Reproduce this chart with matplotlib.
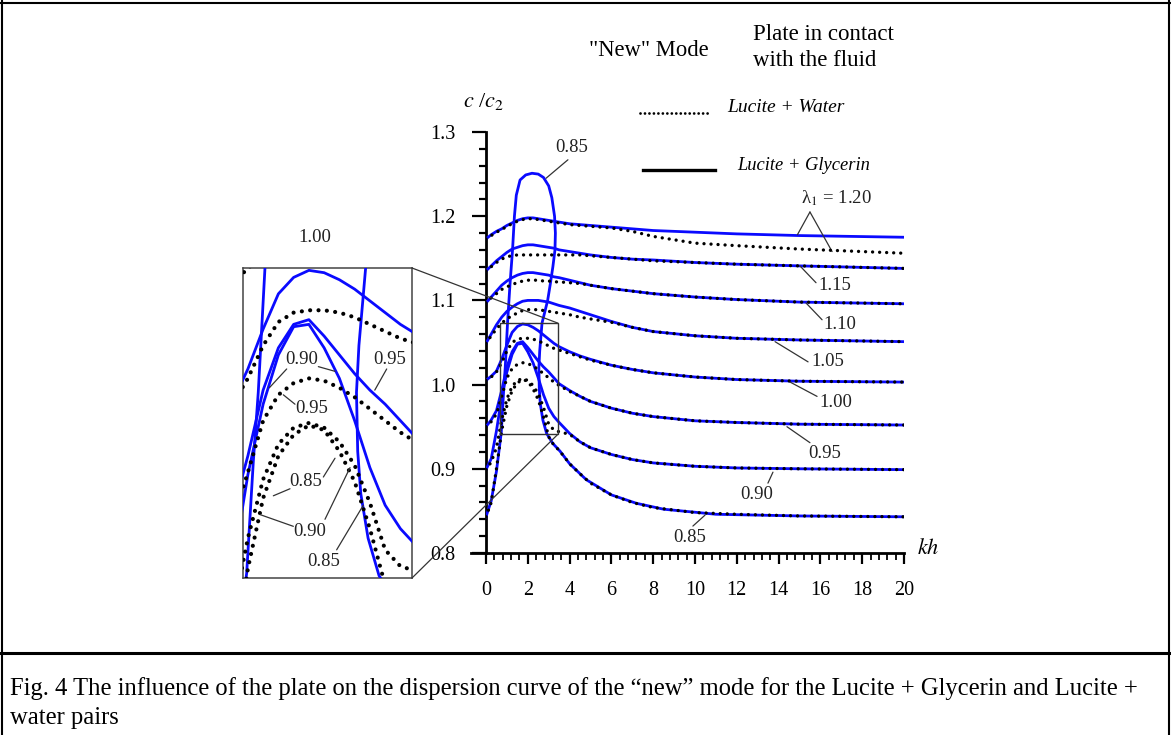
import matplotlib
matplotlib.use("Agg")
import matplotlib.pyplot as plt
from matplotlib.patches import Rectangle, ConnectionPatch
from matplotlib.lines import Line2D
from matplotlib.ticker import MultipleLocator
import numpy as np

plt.rcParams['font.family'] = ['Liberation Serif', 'DejaVu Serif']
plt.rcParams['mathtext.fontset'] = 'stix'

# ---------------- data (kh, c/c2) ----------------
KH = [0, 0.25, 0.5, 0.75, 1.0, 1.25, 1.5, 1.75, 2.0, 2.25, 2.5, 2.75, 3.0,
      3.25, 3.5, 4, 4.5, 5, 6, 7, 8, 10, 12, 15, 20]

glycerin_120 = [1.173, 1.178, 1.182, 1.185, 1.189, 1.192, 1.195, 1.197, 1.198, 1.198, 1.197, 1.196, 1.195,
                1.194, 1.193, 1.191, 1.190, 1.189, 1.187, 1.185, 1.183, 1.181, 1.179, 1.177, 1.175]
water_120 = [1.173, 1.177, 1.181, 1.184, 1.188, 1.191, 1.194, 1.196, 1.197, 1.197, 1.196, 1.195, 1.194,
             1.193, 1.192, 1.190, 1.189, 1.188, 1.186, 1.182, 1.176, 1.168, 1.165, 1.161, 1.156]
glycerin_115 = [1.135, 1.141, 1.147, 1.152, 1.157, 1.161, 1.163, 1.165, 1.166, 1.166, 1.165, 1.164, 1.163,
                1.162, 1.160, 1.158, 1.156, 1.154, 1.151, 1.149, 1.148, 1.145, 1.143, 1.141, 1.138]
water_115 = [1.135, 1.140, 1.145, 1.149, 1.152, 1.153, 1.154, 1.154, 1.154, 1.154, 1.154, 1.154, 1.154,
             1.154, 1.154, 1.154, 1.154, 1.153, 1.151, 1.149, 1.147, 1.145, 1.143, 1.141, 1.138]
glycerin_110 = [1.097, 1.104, 1.111, 1.118, 1.123, 1.127, 1.130, 1.132, 1.133, 1.133, 1.132, 1.131, 1.130,
                1.128, 1.127, 1.124, 1.121, 1.118, 1.114, 1.111, 1.108, 1.104, 1.101, 1.098, 1.096]
water_110 = [1.097, 1.103, 1.108, 1.113, 1.116, 1.119, 1.121, 1.123, 1.124, 1.124, 1.124, 1.123, 1.123,
             1.122, 1.122, 1.121, 1.120, 1.118, 1.114, 1.111, 1.108, 1.104, 1.101, 1.098, 1.096]
glycerin_105 = [1.049, 1.060, 1.071, 1.080, 1.087, 1.092, 1.096, 1.099, 1.100, 1.100, 1.100, 1.099, 1.098,
                1.096, 1.094, 1.091, 1.087, 1.083, 1.075, 1.068, 1.063, 1.058, 1.055, 1.053, 1.051]
water_105 = [1.049, 1.058, 1.066, 1.073, 1.078, 1.082, 1.085, 1.088, 1.089, 1.089, 1.089, 1.088, 1.087,
             1.086, 1.085, 1.083, 1.080, 1.078, 1.074, 1.068, 1.063, 1.058, 1.055, 1.053, 1.051]
glycerin_100 = [1.005, 1.010, 1.016, 1.030, 1.047, 1.062, 1.069, 1.072, 1.071, 1.068, 1.064, 1.059, 1.054,
                1.049, 1.045, 1.039, 1.034, 1.030, 1.023, 1.018, 1.014, 1.009, 1.006, 1.004, 1.003]
water_100 = [1.005, 1.009, 1.015, 1.026, 1.040, 1.050, 1.054, 1.055, 1.055, 1.054, 1.052, 1.049, 1.046,
             1.043, 1.041, 1.037, 1.033, 1.029, 1.023, 1.018, 1.014, 1.009, 1.006, 1.004, 1.003]
glycerin_095 = [0.950, 0.958, 0.969, 0.993, 1.021, 1.039, 1.049, 1.051, 1.044, 1.036, 1.028, 1.021, 1.015,
                1.008, 1.001, 0.993, 0.986, 0.980, 0.972, 0.966, 0.962, 0.957, 0.955, 0.953, 0.952]
water_095 = [0.950, 0.956, 0.965, 0.986, 1.008, 1.019, 1.024, 1.026, 1.025, 1.022, 1.018, 1.013, 1.008,
             1.003, 0.999, 0.992, 0.986, 0.980, 0.972, 0.966, 0.962, 0.957, 0.955, 0.953, 0.952]
glycerin_090 = [0.899, 0.912, 0.945, 0.985, 1.015, 1.036, 1.048, 1.049, 1.039, 1.026, 1.008, 0.988, 0.972,
                0.962, 0.955, 0.942, 0.932, 0.925, 0.917, 0.911, 0.907, 0.903, 0.901, 0.900, 0.899]
water_090 = [0.899, 0.908, 0.925, 0.958, 0.983, 0.998, 1.005, 1.007, 1.005, 0.999, 0.989, 0.973, 0.953,
             0.946, 0.944, 0.941, 0.932, 0.925, 0.917, 0.911, 0.907, 0.903, 0.901, 0.900, 0.899]
water_085 = [0.843, 0.860, 0.900, 0.945, 0.975, 0.993, 1.002, 1.006, 1.004, 0.995, 0.982, 0.962, 0.938,
             0.928, 0.922, 0.906, 0.894, 0.883, 0.869, 0.860, 0.854, 0.848, 0.846, 0.844, 0.843]

# Lucite + Glycerin, lambda1 = 0.85 : closed loop (multi-valued in kh)
kh_glycerin_085 = [0, 0.25, 0.5, 0.73, 0.84, 0.92, 1.03, 1.15, 1.27, 1.36,
                   1.45, 1.63, 1.9, 2.2, 2.5, 2.75, 3.0, 3.15, 3.28, 3.32,
                   3.3, 3.2, 3.08, 2.95, 2.8, 2.68, 2.57, 2.53, 2.55, 2.6,
                   2.72, 2.9, 3.2, 3.54, 4.0, 4.8, 6.0, 7.2, 8.5, 11, 15, 20]
glycerin_085 = [0.843, 0.862, 0.897, 0.943, 0.991, 1.020, 1.073, 1.120, 1.160, 1.200,
                1.225, 1.243, 1.249, 1.251, 1.250, 1.246, 1.236, 1.222, 1.200, 1.180,
                1.160, 1.140, 1.120, 1.100, 1.085, 1.073, 1.040, 1.020, 0.995, 0.977,
                0.958, 0.942, 0.930, 0.921, 0.906, 0.887, 0.869, 0.859, 0.852, 0.846, 0.844, 0.843]

GLYCERIN = [glycerin_120, glycerin_115, glycerin_110, glycerin_105,
            glycerin_100, glycerin_095, glycerin_090]
WATER = [water_120, water_115, water_110, water_105, water_100,
         water_095, water_090, water_085]

X_TICKS = [0, 2, 4, 6, 8, 10, 12, 14, 16, 18, 20]
Y_TICKS = [0.8, 0.9, 1.0, 1.1, 1.2, 1.3]
Y_TICK_LABELS = ['0.8', '0.9', '1.0', '1.1', '1.2', '1.3']

ZOOM_X = (0.67, 3.44)
ZOOM_Y = (0.941, 1.073)

# ---------------- figure ----------------
W, H = 1171, 735
fig = plt.figure(figsize=(W / 100, H / 100), dpi=100)


def fx(px):
    return px / W


def fy(py):
    return 1 - py / H


BLUE = '#0a0aff'
BLUE_LW = 2.0
DOT_KW = dict(color='black', linestyle=(0, (0.01, 2.1)), dash_capstyle='round', lw=2.4)
DOT_KW_IN = dict(color='black', linestyle=(0, (0.01, 2.0)), dash_capstyle='round', lw=3.0)
LEAD = dict(arrowstyle='-', lw=0.9, color='#333333', shrinkA=0, shrinkB=0)
LBL_FS = 13.5
LBL_COL = '#222222'

ax = fig.add_axes([fx(486), fy(553), fx(904) - fx(486), fy(132) - fy(553)])
ax.set_xlim(0, 20)
ax.set_ylim(0.8, 1.3)
ax.set_facecolor('none')

for g in GLYCERIN:
    ax.plot(KH, g, color=BLUE, lw=BLUE_LW, zorder=3, solid_capstyle='round')
ax.plot(kh_glycerin_085, glycerin_085, color=BLUE, lw=BLUE_LW, zorder=3)
for w in WATER:
    ax.plot(KH, w, zorder=4, **DOT_KW)

for s in ['top', 'right']:
    ax.spines[s].set_visible(False)
for s in ['left', 'bottom']:
    ax.spines[s].set_linewidth(2.0)
ax.spines['bottom'].set_bounds(-0.7, 20)

ax.set_xticks(X_TICKS)
ax.set_xticklabels([str(t) for t in X_TICKS])
ax.set_yticks(Y_TICKS)
ax.set_yticklabels(Y_TICK_LABELS)
ax.xaxis.set_minor_locator(MultipleLocator(0.4))
ax.yaxis.set_minor_locator(MultipleLocator(0.02))
ax.tick_params(axis='x', which='major', direction='out', length=8, width=1.6, pad=12, labelsize=14.5)
ax.tick_params(axis='x', which='minor', direction='out', length=5, width=1.3)
ax.tick_params(axis='y', which='major', direction='out', length=10, width=1.6, pad=12, labelsize=14.5)
ax.tick_params(axis='y', which='minor', direction='out', length=5, width=1.6)

# zoom rectangle
ax.add_patch(Rectangle((ZOOM_X[0], ZOOM_Y[0]), ZOOM_X[1] - ZOOM_X[0], ZOOM_Y[1] - ZOOM_Y[0],
                       fill=False, lw=1.0, ec='#333333', zorder=5))

# main labels with leaders
main_labels = [
    ("0.85", (4.11, 1.282), [((3.92, 1.267), (2.87, 1.245))]),
    ("1.15", (16.7, 1.118), [((15.79, 1.121), (15.02, 1.141))]),
    ("1.10", (16.95, 1.071), [((16.08, 1.077), (15.31, 1.097))]),
    ("1.05", (16.36, 1.027), [((15.41, 1.027), (13.83, 1.051))]),
    ("1.00", (16.75, 0.979), [((15.84, 0.986), (14.55, 1.003))]),
    ("0.95", (16.2, 0.918), [((15.50, 0.931), (14.40, 0.950))]),
    ("0.90", (12.97, 0.869), [((13.49, 0.883), (13.73, 0.896))]),
    ("0.85", (9.76, 0.819), [((9.90, 0.832), (10.48, 0.845))]),
]
for txt, pos, leads in main_labels:
    ax.text(pos[0], pos[1], txt, fontsize=LBL_FS, color=LBL_COL, ha='center', va='center', zorder=6)
    for a, b in leads:
        ax.annotate('', xy=b, xytext=a, arrowprops=LEAD, zorder=6)

ax.text(16.75, 1.221, 'λ$_1$ = 1.20', fontsize=LBL_FS, color=LBL_COL, ha='center', va='center')
ax.annotate('', xy=(14.9, 1.178), xytext=(15.5, 1.205), arrowprops=LEAD)
ax.annotate('', xy=(16.56, 1.158), xytext=(15.5, 1.205), arrowprops=LEAD)

# axis titles
fig.text(fx(483), fy(101), '$c$ /$c_2$', fontsize=16, ha='center', va='center')
fig.text(fx(917), fy(549), '$kh$', fontsize=16, ha='left', va='center')

# ---------------- inset ----------------
axi = fig.add_axes([fx(243), fy(578), fx(412) - fx(243), fy(268) - fy(578)])
axi.set_xlim(*ZOOM_X)
axi.set_ylim(*ZOOM_Y)
axi.set_xticks([])
axi.set_yticks([])
for s in axi.spines.values():
    s.set_linewidth(1.1)
    s.set_color('#444444')
for g in GLYCERIN:
    axi.plot(KH, g, color=BLUE, lw=BLUE_LW, zorder=3)
axi.plot(kh_glycerin_085, glycerin_085, color=BLUE, lw=BLUE_LW, zorder=3)
for w in WATER:
    axi.plot(KH, w, zorder=4, **DOT_KW_IN)

inset_labels = [
    ("0.90", (1.632, 1.034), [((1.905, 1.031), (2.178, 1.029)), ((1.386, 1.030), (1.102, 1.022))]),
    ("0.95", (3.08, 1.034), [((3.025, 1.030), (2.83, 1.021))]),
    ("0.95", (1.80, 1.013), [((1.522, 1.015), (1.331, 1.019))]),
    ("0.85", (1.70, 0.982), [((1.987, 0.984), (2.178, 0.992)), ((1.44, 0.979), (1.167, 0.976))]),
    ("0.90", (1.77, 0.961), [((1.495, 0.963), (0.949, 0.968)), ((2.014, 0.966), (2.424, 0.988))]),
    ("0.85", (1.99, 0.948), [((2.205, 0.953), (2.642, 0.972))]),
]
for txt, pos, leads in inset_labels:
    axi.text(pos[0], pos[1], txt, fontsize=LBL_FS, color=LBL_COL, ha='center', va='center', zorder=6)
    for a, b in leads:
        axi.annotate('', xy=b, xytext=a, arrowprops=LEAD, zorder=6)

fig.text(fx(315), fy(238), '1.00', fontsize=LBL_FS, color=LBL_COL, ha='center', va='center')

for xa, ya in [((1, 1), (ZOOM_X[1], ZOOM_Y[1])), ((1, 0), (ZOOM_X[1], ZOOM_Y[0]))]:
    con = ConnectionPatch(xyA=xa, coordsA=axi.transAxes, xyB=ya, coordsB=ax.transData,
                          lw=0.9, color='#333333', zorder=6)
    fig.add_artist(con)

# ---------------- legend ----------------
fig.text(fx(649), fy(50), '"New" Mode', fontsize=16.3, ha='center', va='center')
fig.text(fx(753), fy(35), 'Plate in contact', fontsize=16.5, ha='left', va='center')
fig.text(fx(753), fy(60), 'with the fluid', fontsize=16.5, ha='left', va='center')
fig.add_artist(Line2D([fx(640), fx(710)], [fy(113), fy(113)], color='black',
                      linestyle=(0, (0.01, 1.6)), dash_capstyle='round', lw=2.0))
fig.text(fx(727), fy(107), 'Lucite + Water', fontsize=14, style='italic', ha='left', va='center')
fig.add_artist(Line2D([fx(643), fx(715)], [fy(170), fy(170)], color='black', lw=2.4))
fig.text(fx(737), fy(166), 'Lucite + Glycerin', fontsize=13.3, style='italic', ha='left', va='center')

# ---------------- frame & caption ----------------
for xs, ys, lw in [([1.5, 1.5], [0, H], 1.5), ([W - 2, W - 2], [0, H], 1.5),
                   ([0, W], [3, 3], 1.5), ([0, W], [653, 653], 2.2)]:
    fig.add_artist(Line2D([fx(x) for x in xs], [fy(y) for y in ys], color='black', lw=lw))

fig.text(fx(10), fy(689), 'Fig. 4 The influence of the plate on the dispersion curve of the \u201cnew\u201d mode '
         'for the Lucite + Glycerin and Lucite +', fontsize=17.7, ha='left', va='center')
fig.text(fx(10), fy(718), 'water pairs', fontsize=17.7, ha='left', va='center')

fig.savefig('out.png', dpi=100)
